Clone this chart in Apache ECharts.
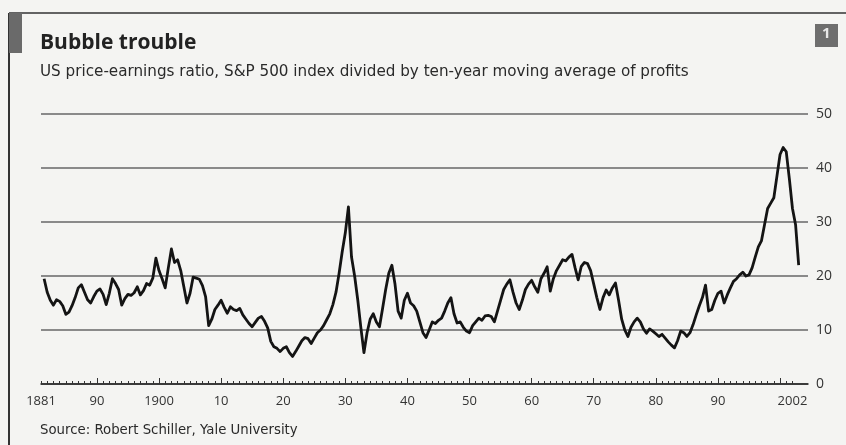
<!DOCTYPE html>
<html>
<head>
<meta charset="utf-8">
<title>Bubble trouble</title>
<script src="https://cdn.jsdelivr.net/npm/echarts@6/dist/echarts.min.js"></script>
<style>
  html, body { margin: 0; padding: 0; background: #f4f4f2; }
  #chart { width: 846px; height: 445px; }
</style>
</head>
<body>
<div id="chart"></div>
<script>
// Cyclically adjusted P/E, half-yearly readings, first point mid-1881
const startYear = 1881.5;
const stepYears = 0.5;

const pe1880s = [19.5, 17.0, 15.5, 14.6, 15.6, 15.3, 14.5, 12.9, 13.3, 14.5, 16.0, 17.8, 18.4, 17.0, 15.6, 15.0, 16.2];
const pe1890s = [17.2, 17.6, 16.6, 14.7, 16.8, 19.5, 18.6, 17.5, 14.6, 15.8, 16.6, 16.4, 16.9, 18.0, 16.5, 17.3, 18.6, 18.3, 19.6, 23.3];
const pe1900s = [21.0, 19.5, 17.8, 21.5, 25.0, 22.5, 23.0, 21.0, 18.0, 15.0, 16.8, 19.8, 19.6, 19.4, 18.2, 16.2, 10.8, 12.0, 13.8, 14.6];
const pe1910s = [15.5, 14.2, 13.1, 14.3, 13.8, 13.6, 14.0, 12.8, 12.0, 11.2, 10.6, 11.4, 12.2, 12.5, 11.6, 10.4, 7.9, 6.9, 6.6, 6.0];
const pe1920s = [6.6, 6.9, 5.8, 5.1, 6.0, 7.0, 8.0, 8.6, 8.4, 7.5, 8.5, 9.5, 10.0, 10.8, 11.9, 13.0, 14.7, 17.0, 20.5, 24.5];
const pe1930s = [28.0, 32.8, 23.5, 20.0, 15.6, 10.5, 5.8, 9.5, 12.0, 13.0, 11.5, 10.6, 14.0, 17.5, 20.5, 22.0, 18.5, 13.5, 12.2, 15.5];
const pe1940s = [16.8, 15.0, 14.5, 13.5, 11.5, 9.5, 8.6, 10.0, 11.5, 11.2, 11.8, 12.2, 13.5, 15.0, 16.0, 13.0, 11.3, 11.5, 10.5, 9.8];
const pe1950s = [9.5, 10.8, 11.5, 12.2, 11.8, 12.6, 12.7, 12.5, 11.5, 13.5, 15.5, 17.5, 18.5, 19.3, 17.0, 15.0, 13.8, 15.5, 17.5, 18.5];
const pe1960s = [19.2, 18.0, 17.0, 19.5, 20.5, 21.7, 17.2, 19.5, 21.0, 22.0, 23.0, 22.8, 23.5, 24.0, 21.5, 19.3, 21.8, 22.5, 22.3, 21.0];
const pe1970s = [18.5, 16.0, 13.8, 16.0, 17.4, 16.5, 17.8, 18.7, 15.5, 12.0, 10.0, 8.8, 10.5, 11.5, 12.2, 11.5, 10.2, 9.4, 10.2, 9.8];
const pe1980s = [9.3, 8.8, 9.2, 8.5, 7.8, 7.2, 6.7, 8.0, 9.8, 9.5, 8.8, 9.5, 11.0, 12.8, 14.5, 16.0, 18.3, 13.5, 13.8, 15.5];
const pe1990s = [16.8, 17.2, 15.0, 16.5, 17.8, 19.0, 19.5, 20.2, 20.7, 20.0, 20.2, 21.5, 23.5, 25.4, 26.5, 29.5, 32.5, 33.5, 34.5, 38.5];
const pe2000s = [42.5, 43.8, 43.0, 38.0, 32.5, 29.5, 22.0];

// Axis labels and ticks
const yearLabels = [1881, 1890, 1900, 1910, 1920, 1930, 1940, 1950, 1960, 1970, 1980, 1990, 2002];
const decadeTicks = [1890, 1900, 1910, 1920, 1930, 1940, 1950, 1960, 1970, 1980, 1990, 2000];

const peValues = [].concat(pe1880s, pe1890s, pe1900s, pe1910s, pe1920s, pe1930s,
  pe1940s, pe1950s, pe1960s, pe1970s, pe1980s, pe1990s, pe2000s);
const peSeries = peValues.map((v, i) => [startYear + i * stepYears, v]);

const yearTicks = [];
for (let y = 1881; y <= 2002; y++) yearTicks.push(y);

const FONT = '"Open Sans", sans-serif';
const TEXT_FONT = '"DejaVu Sans", sans-serif';
const xMin = 1881, xMax = 2004.5;

const chart = echarts.init(document.getElementById('chart'), null, { renderer: 'canvas' });

chart.setOption({
  backgroundColor: '#f4f4f2',
  animation: false,
  grid: { left: 41, right: 38, top: 114, bottom: 61 },
  xAxis: [
    {
      type: 'value', min: xMin, max: xMax,
      axisLine: { show: true, lineStyle: { color: '#222', width: 1.5 } },
      axisTick: { show: true, inside: true, length: 3, customValues: yearTicks,
        lineStyle: { color: '#333', width: 1 } },
      axisLabel: {
        show: true, customValues: yearLabels, margin: 11,
        color: '#333', fontFamily: FONT, fontSize: 13,
        formatter: v => (v === 1881 || v === 1900 || v === 2002) ? String(v) : String(v).slice(2)
      },
      splitLine: { show: false }
    },
    {
      type: 'value', min: xMin, max: xMax, position: 'bottom',
      axisLine: { show: false },
      axisTick: { show: true, inside: true, length: 6, customValues: decadeTicks,
        lineStyle: { color: '#333', width: 1 } },
      axisLabel: { show: false },
      splitLine: { show: false }
    }
  ],
  yAxis: {
    type: 'value', position: 'right', min: 0, max: 50, interval: 10,
    axisLine: { show: false },
    axisTick: { show: false },
    axisLabel: { margin: 8, color: '#333', fontFamily: FONT, fontSize: 14 },
    splitLine: { show: true, lineStyle: { color: '#8a8a8a', width: 1.9 } }
  },
  series: [{
    type: 'line',
    data: peSeries,
    showSymbol: false,
    smooth: false,
    lineStyle: { color: '#141414', width: 2.8, join: 'round' },
    z: 5
  }],
  graphic: [
    // frame: top rule and left rule
    { type: 'line', shape: { x1: 9, y1: 13, x2: 846, y2: 13 }, style: { stroke: '#333', lineWidth: 1.5 } },
    { type: 'line', shape: { x1: 9, y1: 13, x2: 9, y2: 445 }, style: { stroke: '#333', lineWidth: 2 } },
    { type: 'rect', shape: { x: 9, y: 13, width: 13, height: 40 }, style: { fill: '#6a6a6a' } },
    // chart number badge
    { type: 'rect', shape: { x: 815, y: 24, width: 23, height: 23 }, style: { fill: '#6e6e6e' } },
    { type: 'text', left: 822, top: 26, style: { text: '1', fill: '#e8e8e8', font: 'bold 15px ' + FONT } },
    // headings
    { type: 'text', left: 40, top: 33, style: { text: 'Bubble trouble', fill: '#222', font: 'bold 21px ' + FONT } },
    { type: 'text', left: 40, top: 65, style: { text: 'US price-earnings ratio, S&P 500 index divided by ten-year moving average of profits', fill: '#2a2a2a', font: '15.2px ' + TEXT_FONT } },
    { type: 'text', left: 40, top: 424, style: { text: 'Source: Robert Schiller, Yale University', fill: '#2a2a2a', font: '13.3px ' + TEXT_FONT } }
  ]
});
</script>
</body>
</html>
